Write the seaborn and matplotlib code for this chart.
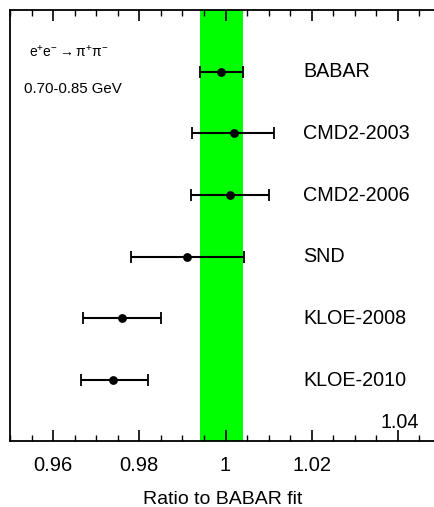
import matplotlib
matplotlib.use("Agg")
import matplotlib.pyplot as plt
import seaborn as sns
import pandas as pd
from matplotlib.ticker import MultipleLocator

# datos
experimentos = ["BABAR", "CMD2-2003", "CMD2-2006", "SND", "KLOE-2008", "KLOE-2010"]
ratio = [0.999, 1.002, 1.001, 0.991, 0.976, 0.974]
err_bajo = [0.005, 0.0097, 0.009, 0.0130, 0.009, 0.0075]
err_alto = [0.005, 0.0092, 0.009, 0.0132, 0.009, 0.008]
banda_babar = (0.994, 1.004)

sns.set_style("ticks")
plt.rcParams["font.family"] = ["Liberation Sans", "DejaVu Sans"]
plt.rcParams.update({"text.color": "black", "axes.edgecolor": "black",
                     "xtick.color": "black", "axes.labelcolor": "black",
                     "mathtext.fontset": "custom", "mathtext.rm": "Liberation Sans",
                     "mathtext.it": "Liberation Sans"})

df = pd.DataFrame({"exp": experimentos, "ratio": ratio, "pos": range(len(experimentos))})

fig = plt.figure(figsize=(4.35, 5.07), dpi=100)
ax = fig.add_axes([0.023, 0.130, 0.977, 0.850])

ax.axvspan(*banda_babar, color="#00ff00", lw=0, zorder=0)
ax.errorbar(df["ratio"], df["pos"], xerr=[err_bajo, err_alto], fmt="none",
            ecolor="black", elinewidth=1.5, capsize=4, capthick=1.3, zorder=2)
sns.scatterplot(data=df, x="ratio", y="pos", ax=ax, color="black", s=40,
                edgecolor="black", linewidth=0, zorder=3, legend=False)

for i, nombre in enumerate(experimentos):
    ax.text(1.018, i, nombre, fontsize=14.2, va="center", ha="left")

ax.text(0.9545, -0.33, r"e$^{+}$e$^{-}$$\rightarrow$$\pi^{+}\pi^{-}$", fontsize=10, va="center")
ax.text(0.9532, 0.28, "0.70-0.85 GeV", fontsize=10.8, va="center")
ax.text(1.0405, 5.85, "1.04", fontsize=14.2, ha="center", va="bottom")

ax.set_xlim(0.95, 1.0486)
ax.set_ylim(5.99, -1.0)
ax.xaxis.set_minor_locator(MultipleLocator(0.005))
ax.set_xticks([0.96, 0.98, 1.0, 1.02, 1.04])
ax.set_xticklabels(["0.96", "0.98", "1", "1.02", ""])
ax.tick_params(axis="x", which="major", direction="in", length=8, width=1.2,
               top=True, labelsize=14.5, pad=11)
ax.tick_params(axis="x", which="minor", direction="in", length=4, width=1.0, top=True)
ax.set_yticks([])
ax.set_xlabel("Ratio to BABAR fit", fontsize=14, labelpad=11)
ax.set_ylabel("")
for lado in ["left", "top", "bottom"]:
    ax.spines[lado].set_linewidth(1.3)
ax.spines["right"].set_visible(False)

fig.savefig("out.png", dpi=100)
